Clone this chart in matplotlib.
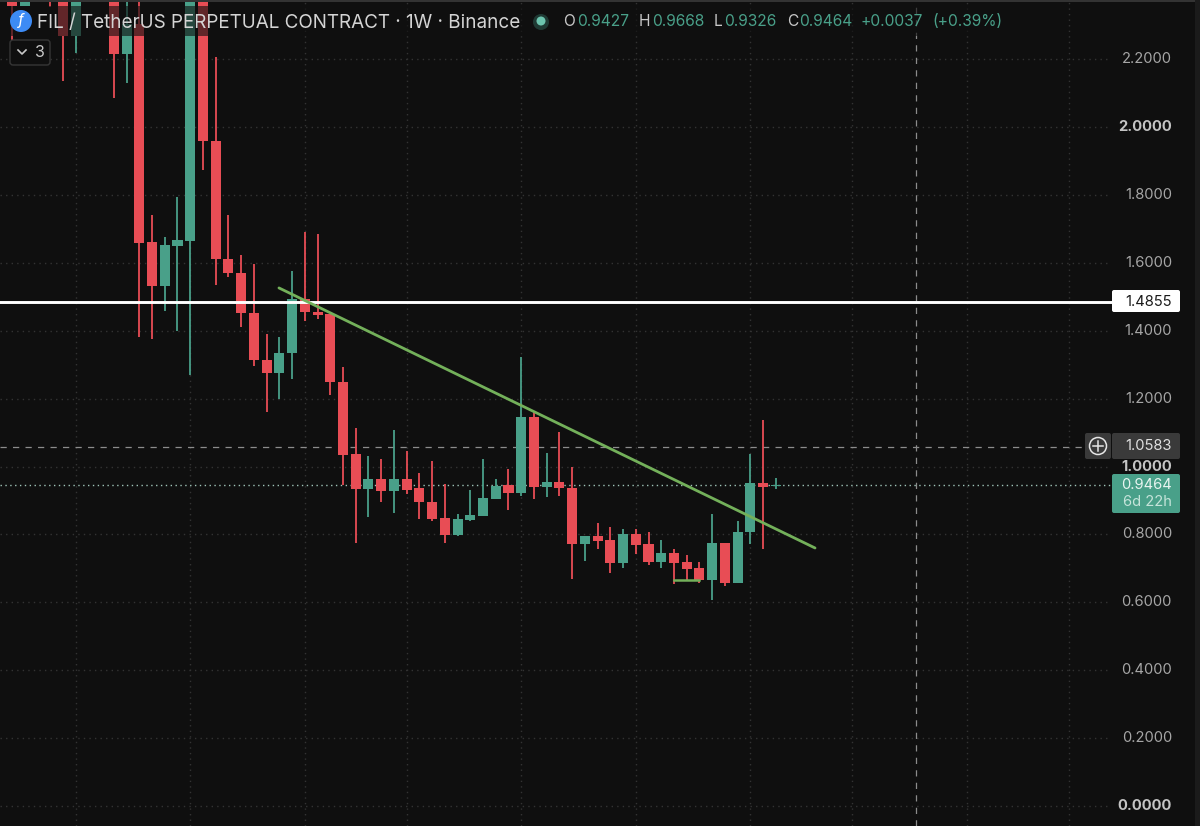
import matplotlib
matplotlib.use("Agg")
import matplotlib.pyplot as plt
from matplotlib.patches import Circle, FancyBboxPatch, Rectangle
import numpy as np

plt.rcParams['font.family'] = ['Inter', 'DejaVu Sans']

# weekly candles (the first ones run above the top edge)
opens = [2.45, 2.356, 2.60, 2.65, 2.50, 2.268, 2.65, 2.70, 2.60, 2.215,
         2.303, 1.661, 1.532, 1.650, 1.664, 2.50, 1.959, 1.611, 1.570, 1.452,
         1.314, 1.275, 1.334, 1.493, 1.455, 1.449, 1.249, 1.037, 0.934, 0.963,
         0.928, 0.963, 0.937, 0.895, 0.848, 0.798, 0.842, 0.854, 0.904, 0.946,
         0.922, 1.146, 0.940, 0.954, 0.937, 0.772, 0.795, 0.783, 0.716, 0.801,
         0.772, 0.719, 0.745, 0.719, 0.701, 0.666, 0.775, 0.657, 0.807, 0.951,
         0.9427]
highs = [2.60, 2.60, 2.70, 2.75, 2.60, 2.60, 2.75, 2.80, 2.70, 2.50,
         2.45, 1.741, 1.676, 1.794, 2.70, 2.60, 2.206, 1.741, 1.623, 1.596,
         1.390, 1.381, 1.576, 1.691, 1.685, 1.449, 1.293, 1.113, 1.031, 1.022,
         1.108, 1.046, 0.981, 1.016, 0.949, 0.860, 0.931, 1.022, 0.963, 0.993,
         1.322, 1.161, 1.040, 1.102, 0.999, 0.795, 0.834, 0.822, 0.816, 0.816,
         0.807, 0.783, 0.757, 0.739, 0.719, 0.860, 0.775, 0.839, 1.037, 1.137,
         0.9668]
lows = [2.256, 2.356, 2.45, 2.353, 2.135, 2.218, 2.50, 2.55, 2.086, 2.130,
        1.381, 1.375, 1.458, 1.399, 1.270, 1.873, 1.535, 1.558, 1.411, 1.296,
        1.161, 1.199, 1.258, 1.428, 1.434, 1.211, 0.946, 0.775, 0.851, 0.895,
        0.863, 0.919, 0.845, 0.839, 0.775, 0.795, 0.839, 0.854, 0.904, 0.872,
        0.913, 0.904, 0.910, 0.913, 0.669, 0.722, 0.757, 0.686, 0.701, 0.742,
        0.710, 0.701, 0.654, 0.666, 0.657, 0.607, 0.648, 0.657, 0.772, 0.757,
        0.9326]
closes = [2.356, 2.50, 2.50, 2.50, 2.268, 2.55, 2.55, 2.60, 2.215, 2.303,
          1.658, 1.532, 1.653, 1.667, 2.60, 1.959, 1.611, 1.570, 1.452, 1.314,
          1.275, 1.334, 1.493, 1.455, 1.446, 1.249, 1.034, 0.934, 0.963, 0.928,
          0.963, 0.931, 0.895, 0.845, 0.798, 0.845, 0.857, 0.907, 0.943, 0.922,
          1.146, 0.940, 0.954, 0.937, 0.772, 0.795, 0.780, 0.716, 0.801, 0.769,
          0.719, 0.745, 0.716, 0.698, 0.666, 0.775, 0.657, 0.807, 0.951, 0.940,
          0.9464]

price_ticks = [2.2, 2.0, 1.8, 1.6, 1.4, 1.2, 1.0, 0.8, 0.6, 0.4, 0.2, 0.0]
bold_ticks = [2.0, 1.0, 0.0]
month_lines = [5, 14, 23, 31, 40, 49, 58, 66, 75, 83]

level_price = 1.4855
cross_price = 1.0583
last_price = 0.9464
cross_candle = 71
trend_x = [20.97, 63.08]
trend_y = [1.526, 0.760]
small_x = [52, 54]
small_y = [0.666, 0.666]

title = "FIL / TetherUS PERPETUAL CONTRACT · 1W · Binance"
ohlc = [("O", 563, "0.9427", 577), ("H", 639, "0.9668", 652), ("L", 714, "0.9326", 724), ("C", 787, "0.9464", 799)]

BG = "#0f0f0f"
RED = "#e84d55"
GREEN = "#49a089"
LINE_GREEN = "#73b05a"
GRID = "#333333"
TEXT = "#a6a6a6"

fig = plt.figure(figsize=(12, 8.26), dpi=100, facecolor=BG)
ax = fig.add_axes([0, 0, 1, 1], facecolor=BG)
ax.set_xlim(-0.9427, 93.32)
ax.set_ylim(-0.0589, 2.3741)
for s in ax.spines.values():
    s.set_visible(False)
ax.set_xticks([])
ax.set_yticks([])

# grid stops at the price scale
grid_end = 1108 / 1200
for p in price_ticks:
    ax.plot([0, grid_end], [p, p], transform=ax.get_yaxis_transform(), color=GRID, lw=1, ls=(0, (1, 3)), zorder=1)
for m in month_lines:
    ax.axvline(m, color=GRID, lw=1, ls=(0, (1, 3)), zorder=1)

# crosshair + last price
ax.axvline(cross_candle, color="#8c8c8c", lw=0.9, ls=(0, (5, 5)), zorder=2)
ax.plot([0, 1085 / 1200], [cross_price, cross_price], transform=ax.get_yaxis_transform(),
        color="#8c8c8c", lw=0.9, ls=(0, (5, 5)), zorder=2)
ax.plot([0, 1112 / 1200], [last_price, last_price], transform=ax.get_yaxis_transform(),
        color="#9fc4b8", lw=1, ls=(0, (1, 2.5)), zorder=2)

# candles
x = np.arange(len(opens))
o = np.array(opens)
c = np.array(closes)
cols = [GREEN if b >= a else RED for a, b in zip(opens, closes)]
ax.vlines(x, lows, highs, colors=cols, lw=1.3, zorder=3)
ax.bar(x, np.abs(c - o), bottom=np.minimum(o, c), width=0.79, color=cols, zorder=4)

# drawings
ax.plot([0, 1112 / 1200], [level_price, level_price], transform=ax.get_yaxis_transform(),
        color="white", lw=2.1, zorder=5)
ax.plot(trend_x, trend_y, color=LINE_GREEN, lw=2.0, zorder=5, solid_capstyle="round")
ax.plot(small_x, small_y, color=LINE_GREEN, lw=1.8, zorder=5)

# price scale labels
for p in price_ticks:
    bold = p in bold_ticks
    ax.text(1172 / 1200, p, f"{p:.4f}", transform=ax.get_yaxis_transform(), ha="right", va="center",
            fontsize=10.6, color="#c4c4c4" if bold else TEXT, fontweight="bold" if bold else "normal", zorder=6)

# everything that sits on the screen rather than on the price scale, in pixels
pix = fig.add_axes([0, 0, 1, 1], facecolor="none")
pix.set_xlim(0, 1200)
pix.set_ylim(826, 0)
pix.axis("off")

pix.add_patch(Rectangle((0, 6), 1005, 30, color=BG, alpha=0.62, lw=0, zorder=1))
pix.add_patch(Rectangle((0, 0), 1200, 1.5, color="#333333", lw=0, zorder=1))
pix.add_patch(Rectangle((1195, 0), 5, 826, color="#1b1b1b", lw=0, zorder=1))


def label_box(x0, y0, w, h, color):
    pix.add_patch(FancyBboxPatch((x0 + 2, y0 + 2), w - 4, h - 4, boxstyle="round,pad=2,rounding_size=2",
                                 fc=color, ec="none", zorder=3))


label_box(1112, 290, 68, 22, "white")
pix.text(1172, 301.5, "1.4855", ha="right", va="center", fontsize=10.6, color="#1a1a1a", zorder=4)
label_box(1085, 433, 26, 26, "#3a3a3a")
label_box(1112, 433, 68, 26, "#3a3a3a")
pix.text(1172, 446, "1.0583", ha="right", va="center", fontsize=10.6, color="#e0e0e0", zorder=4)
pix.add_patch(Circle((1098, 446), 8.5, fc="none", ec="#e6e6e6", lw=1.1, zorder=4))
pix.plot([1093, 1103], [446, 446], color="#e6e6e6", lw=1.1, zorder=4)
pix.plot([1098, 1098], [441, 451], color="#e6e6e6", lw=1.1, zorder=4)
label_box(1112, 474, 68, 39, GREEN)
pix.text(1172, 485, "0.9464", ha="right", va="center", fontsize=10.6, color="#e8f4f0", zorder=4)
pix.text(1172, 502, "6d 22h", ha="right", va="center", fontsize=10.6, color="#c5e4da", zorder=4)

# legend row
pix.add_patch(Circle((21, 21), 11, fc="#3d8bf5", ec="none", zorder=4))
pix.text(21, 21, "ƒ", ha="center", va="center", fontsize=11, color="white", style="italic", zorder=5)
pix.text(37, 22.5, title, ha="left", va="center", fontsize=13.6, color="#d4d4d4", zorder=5)
pix.add_patch(Circle((541, 22), 8, fc="#1f3a34", ec="none", zorder=4))
pix.add_patch(Circle((541, 21), 4.5, fc="#6cc4ae", ec="none", zorder=5))
for name, nx, val, vx in ohlc:
    pix.text(nx, 22, name, ha="left", va="center", fontsize=11.2, color="#c8c8c8", zorder=5)
    pix.text(vx, 22, val, ha="left", va="center", fontsize=11.2, color=GREEN, zorder=5)
pix.text(861, 22, "+0.0037", ha="left", va="center", fontsize=11.2, color=GREEN, zorder=5)
pix.text(932, 22, "(+0.39%)", ha="left", va="center", fontsize=11.2, color=GREEN, zorder=5)

# collapsed indicators button
pix.add_patch(FancyBboxPatch((13, 43), 34, 19, boxstyle="round,pad=3,rounding_size=3",
                             fc=BG, ec="#363636", lw=1, zorder=4))
pix.plot([18, 22, 26], [50, 54, 50], color="#c8c8c8", lw=1.2, zorder=5)
pix.text(40, 52.5, "3", ha="center", va="center", fontsize=11.5, color="#c8c8c8", zorder=5)

fig.savefig("out.png", dpi=100, facecolor=BG)
